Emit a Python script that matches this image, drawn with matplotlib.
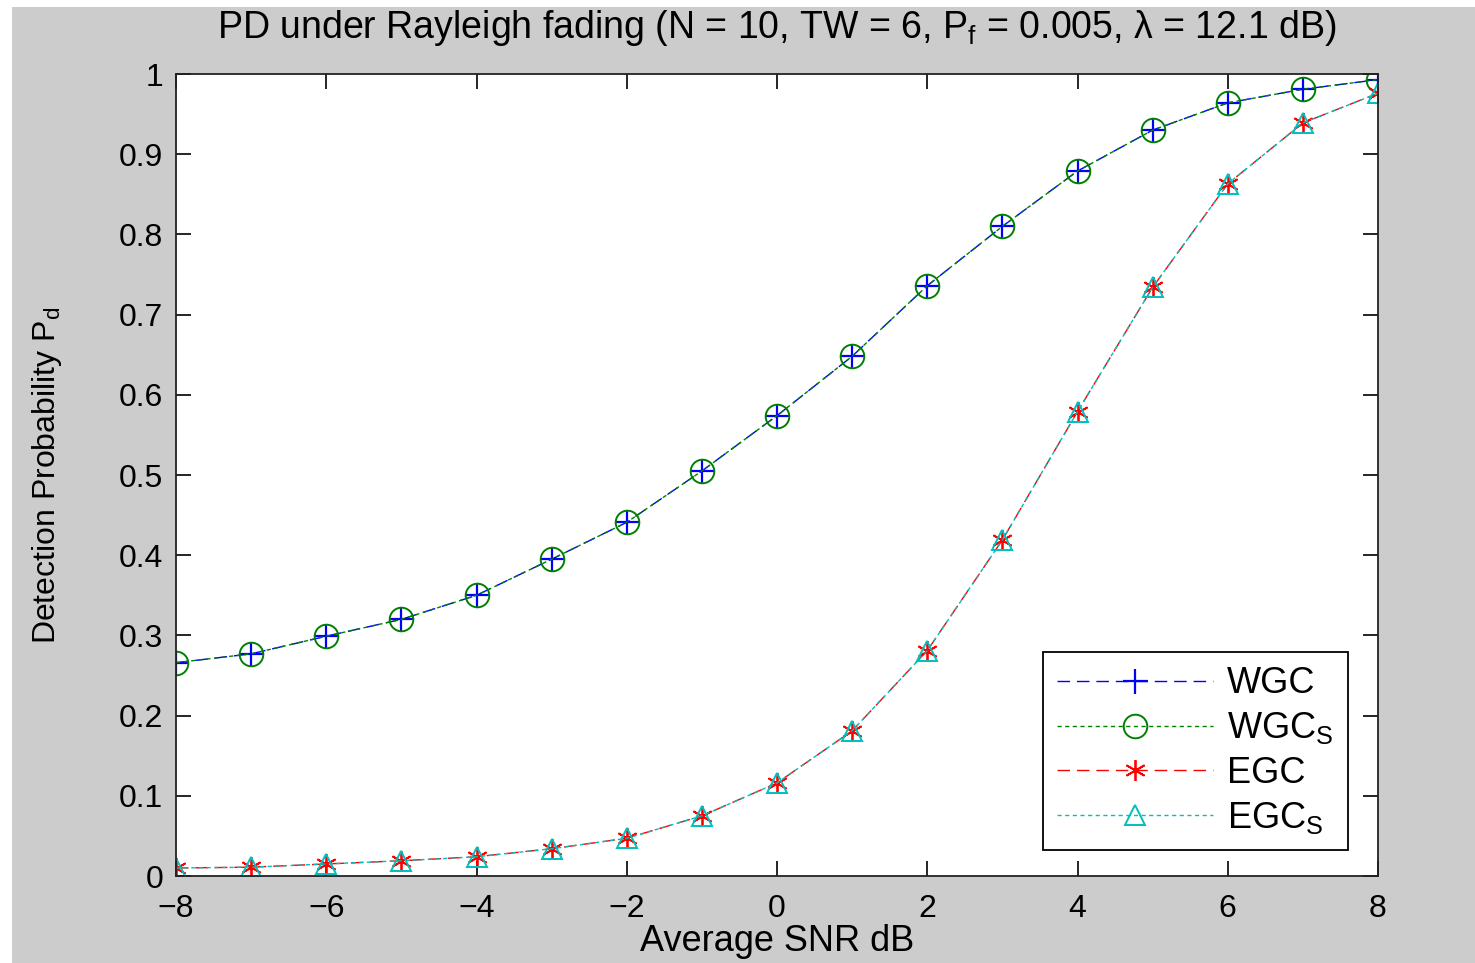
import matplotlib
matplotlib.use("Agg")
import matplotlib.pyplot as plt
from matplotlib.patches import Rectangle

plt.rcParams['font.family'] = ['Liberation Sans', 'DejaVu Sans']
plt.rcParams['mathtext.fontset'] = 'custom'
plt.rcParams['mathtext.rm'] = 'Liberation Sans'
plt.rcParams['mathtext.it'] = 'Liberation Sans'
plt.rcParams['axes.unicode_minus'] = True

snr_db = [-8, -7, -6, -5, -4, -3, -2, -1, 0, 1, 2, 3, 4, 5, 6, 7, 8]
wgc = [0.266, 0.277, 0.299, 0.320, 0.350, 0.395, 0.441, 0.505, 0.574, 0.648,
       0.736, 0.810, 0.879, 0.930, 0.964, 0.981, 0.993]
wgc_s = [0.266, 0.277, 0.299, 0.320, 0.350, 0.395, 0.441, 0.505, 0.574, 0.648,
         0.736, 0.810, 0.879, 0.930, 0.964, 0.981, 0.993]
egc = [0.010, 0.011, 0.015, 0.019, 0.024, 0.034, 0.047, 0.075, 0.116, 0.181,
       0.281, 0.419, 0.579, 0.734, 0.863, 0.939, 0.976]
egc_s = [0.010, 0.011, 0.015, 0.019, 0.024, 0.034, 0.047, 0.075, 0.116, 0.181,
         0.281, 0.419, 0.579, 0.734, 0.863, 0.939, 0.976]

x_ticks = [-8, -6, -4, -2, 0, 2, 4, 6, 8]
y_ticks = [0, 0.1, 0.2, 0.3, 0.4, 0.5, 0.6, 0.7, 0.8, 0.9, 1]
y_tick_labels = ['0', '0.1', '0.2', '0.3', '0.4', '0.5', '0.6', '0.7', '0.8', '0.9', '1']

W, H = 1475, 963
fig = plt.figure(figsize=(W / 100, H / 100), dpi=100)
fig.patch.set_facecolor('white')
fig.patches.append(Rectangle((12 / W, 0), 1 - 12 / W, 1 - 7 / H,
                             transform=fig.transFigure, facecolor='#cccccc',
                             edgecolor='none', zorder=-10))

ax = fig.add_axes([176 / W, 1 - 876 / H, (1378 - 176) / W, (876 - 74) / H])
ax.set_facecolor('white')

ax.plot(snr_db, wgc, color='#0000ff', linestyle=(0, (9, 5)), linewidth=1.0,
        marker='+', markersize=18, markeredgewidth=1.6, label='WGC')
ax.plot(snr_db, wgc_s, color='#008000', linestyle=(0, (3, 2.5)), linewidth=1.0,
        marker='o', markersize=17, markerfacecolor='none', markeredgewidth=1.4,
        label=r'WGC$_\mathregular{S}$')
ax.plot(snr_db, egc, color='#ff0000', linestyle=(0, (9, 5)), linewidth=1.0,
        marker=(6, 2, 0), markersize=15, markeredgewidth=1.3, label='EGC')
ax.plot(snr_db, egc_s, color='#00bfbf', linestyle=(0, (3, 2.5)), linewidth=1.0,
        marker='^', markersize=15, markerfacecolor='none', markeredgewidth=1.4,
        label=r'EGC$_\mathregular{S}$')

ax.set_xlim(-8, 8)
ax.set_ylim(0, 1)
ax.set_xticks(x_ticks)
ax.set_yticks(y_ticks)
ax.set_yticklabels(y_tick_labels)
ax.tick_params(direction='in', length=11, width=1.2, top=True, right=True,
               labelsize=23, colors='black')
ax.tick_params(axis='x', pad=13)
ax.tick_params(axis='y', pad=9)
for s in ax.spines.values():
    s.set_linewidth(1.3)
    s.set_color('#222222')

ax.set_title(r'PD under Rayleigh fading (N = 10, TW = 6, P$_\mathregular{f}$ = 0.005, λ = 12.1 dB)',
             fontsize=27, pad=26)
ax.set_xlabel('Average SNR dB', fontsize=26, labelpad=0)
ax.set_ylabel(r'Detection Probability P$_\mathregular{d}$', fontsize=23, labelpad=40)

leg = ax.legend(loc='lower right', bbox_to_anchor=(1348 / W, 1 - 850 / H),
                bbox_transform=fig.transFigure, fontsize=26, frameon=True,
                fancybox=False, edgecolor='black', framealpha=1,
                handlelength=4.3, handletextpad=0.4, labelspacing=0.25,
                borderpad=0.4, borderaxespad=0)
leg.get_frame().set_linewidth(1.3)

fig.savefig('out.png', dpi=100, facecolor=fig.get_facecolor())
